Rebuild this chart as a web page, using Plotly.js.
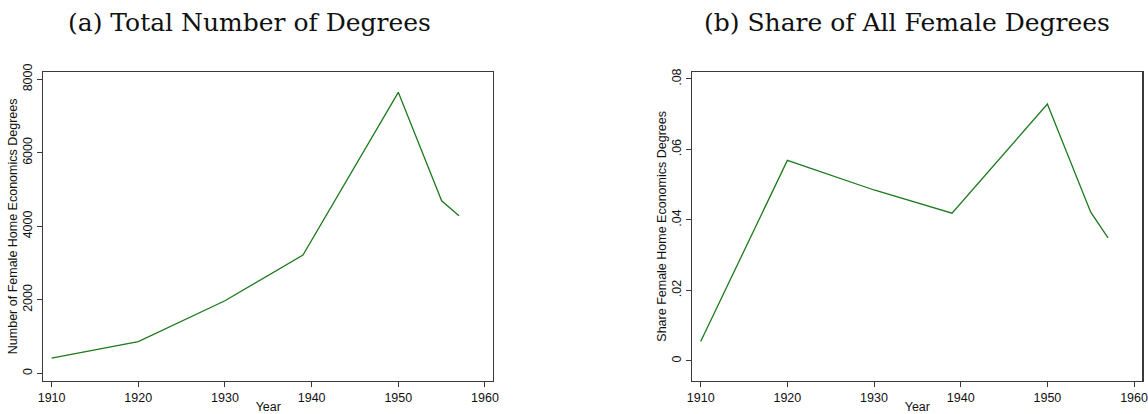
<!DOCTYPE html>
<html>
<head>
<meta charset="utf-8">
<script src="https://cdn.plot.ly/plotly-3.0.1.min.js"></script>
<style>html,body{margin:0;padding:0;background:#fff;}#chart{width:1148px;height:414px;}</style>
</head>
<body>
<div id="chart"></div>
<script>
// Data
const years = [1910, 1920, 1930, 1939, 1950, 1955, 1957];
const totalDegrees = [410, 860, 1975, 3220, 7645, 4695, 4290];
const shareDegrees = [0.0055, 0.0569, 0.0485, 0.0419, 0.0729, 0.0422, 0.0349];
const xTicks = [1910, 1920, 1930, 1940, 1950, 1960];
const yTicksA = [0, 2000, 4000, 6000, 8000];
const yTicksB = [0, 0.02, 0.04, 0.06, 0.08];
const yTickTextB = ['0', '.02', '.04', '.06', '.08'];
const titleA = '(a) Total Number of Degrees';
const titleB = '(b) Share of All Female Degrees';
const yTitleA = 'Number of Female Home Economics Degrees';
const yTitleB = 'Share Female Home Economics Degrees';
const xTitle = 'Year';

const lineColor = '#1d7a1d';
const axisColor = '#3a3a3a';
const tickFont = {family: 'Liberation Sans, Arial, sans-serif', size: 12.5, color: '#111'};
const titleFont = {family: 'Liberation Sans, Arial, sans-serif', size: 12.5, color: '#111'};

const traces = [
  {x: years, y: totalDegrees, xaxis: 'x', yaxis: 'y', type: 'scatter', mode: 'lines',
   line: {color: lineColor, width: 1.3}, hoverinfo: 'x+y'},
  {x: years, y: shareDegrees, xaxis: 'x2', yaxis: 'y2', type: 'scatter', mode: 'lines',
   line: {color: lineColor, width: 1.3}, hoverinfo: 'x+y'}
];

function xAxis(domain, anchor) {
  return {
    domain: domain, anchor: anchor, range: [1909.04, 1960.96],
    tickmode: 'array', tickvals: xTicks, ticks: 'outside', ticklen: 5, tickwidth: 1, tickcolor: axisColor,
    showline: true, linecolor: axisColor, linewidth: 1.2, mirror: true, ticklabeloverflow: 'allow',
    showgrid: false, zeroline: false, tickfont: tickFont, automargin: false,
    title: {text: xTitle, font: titleFont, standoff: 0}
  };
}
function yAxis(domain, anchor, range, tickvals, ticktext, title) {
  const a = {
    domain: domain, anchor: anchor, range: range,
    tickmode: 'array', tickvals: tickvals, ticks: 'outside', ticklen: 5, tickwidth: 1, tickcolor: axisColor,
    tickangle: -90, ticklabeloverflow: 'allow',
    showline: true, linecolor: axisColor, linewidth: 1.2, mirror: true,
    showgrid: false, zeroline: false, tickfont: tickFont, automargin: false,
    title: {text: title, font: titleFont, standoff: 0}
  };
  if (ticktext) a.ticktext = ticktext;
  return a;
}

const yDom = [0.0797, 0.8268];
const layout = {
  width: 1148, height: 414,
  margin: {l: 0, r: 0, t: 0, b: 0},
  paper_bgcolor: '#fff', plot_bgcolor: '#fff',
  showlegend: false,
  xaxis: xAxis([0.0377, 0.4297], 'y'),
  yaxis: yAxis(yDom, 'x', [-210, 8207], yTicksA, null, yTitleA),
  xaxis2: xAxis([0.6031, 0.9951], 'y2'),
  yaxis2: yAxis(yDom, 'x2', [-0.00571, 0.08207], yTicksB, yTickTextB, yTitleB),
  annotations: [
    {text: titleA, xref: 'paper', yref: 'paper', x: 250 / 1148, y: 1 - 22 / 414,
     xanchor: 'center', yanchor: 'middle', showarrow: false,
     font: {family: 'DejaVu Serif, Liberation Serif, serif', size: 25, color: '#111'}},
    {text: titleB, xref: 'paper', yref: 'paper', x: 907 / 1148, y: 1 - 22 / 414,
     xanchor: 'center', yanchor: 'middle', showarrow: false,
     font: {family: 'DejaVu Serif, Liberation Serif, serif', size: 25, color: '#111'}}
  ]
};

Plotly.newPlot('chart', traces, layout, {displayModeBar: false, staticPlot: true});
</script>
</body>
</html>
